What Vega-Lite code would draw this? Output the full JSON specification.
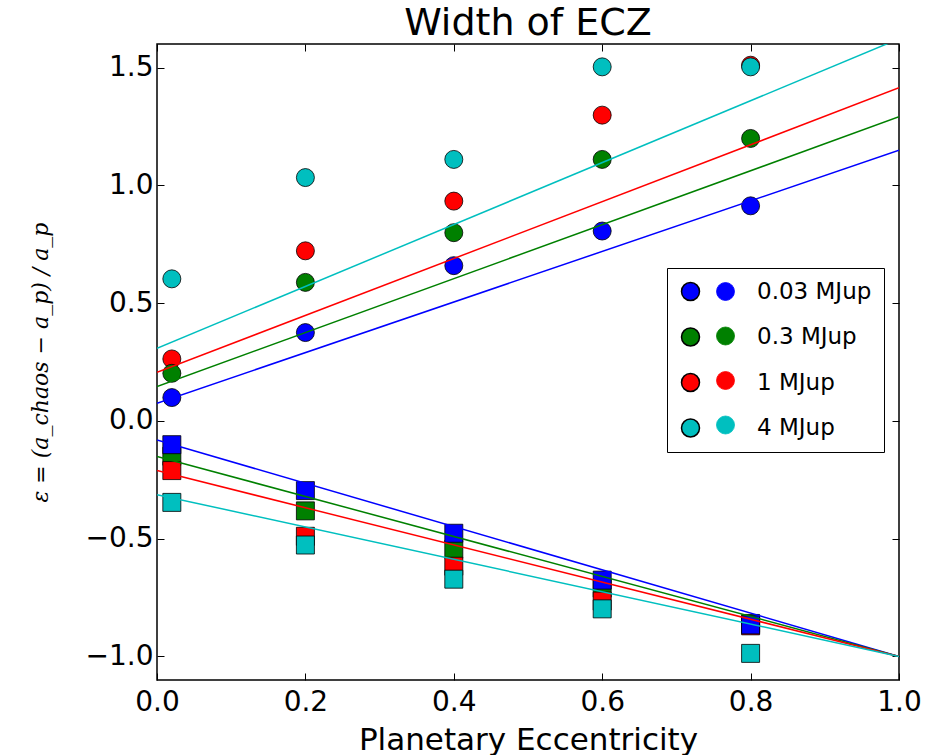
{
  "$schema": "https://vega.github.io/schema/vega-lite/v6.json",
  "width": 742,
  "height": 636,
  "autosize": {"type": "none"},
  "padding": {"left": 157, "top": 44, "right": 30, "bottom": 75},
  "background": "white",
  "title": {"text": "Width of ECZ", "fontSize": 38, "font": "DejaVu Sans", "fontWeight": "normal", "baseline": "alphabetic", "offset": 9, "dy": 38, "color": "black"},
  "config": {
    "view": {"stroke": "black", "strokeWidth": 1.5},
    "axis": {"domain": false, "grid": false, "tickSize": -7, "tickColor": "black", "tickWidth": 1, "labelFont": "DejaVu Sans", "labelFontSize": 28, "labelColor": "black", "titleFont": "DejaVu Sans", "titleColor": "black", "titleFontWeight": "normal", "labelFlush": false, "labelOverlap": false}
  },
  "datasets": {
    "circles": [
      {"mass": "1 MJup", "e": 0.02, "eps": 0.263},
      {"mass": "1 MJup", "e": 0.2, "eps": 0.722},
      {"mass": "1 MJup", "e": 0.4, "eps": 0.933},
      {"mass": "1 MJup", "e": 0.6, "eps": 1.298},
      {"mass": "1 MJup", "e": 0.8, "eps": 1.51},
      {"mass": "0.3 MJup", "e": 0.02, "eps": 0.202},
      {"mass": "0.3 MJup", "e": 0.2, "eps": 0.588},
      {"mass": "0.3 MJup", "e": 0.4, "eps": 0.799},
      {"mass": "0.3 MJup", "e": 0.6, "eps": 1.11},
      {"mass": "0.3 MJup", "e": 0.8, "eps": 1.199},
      {"mass": "0.03 MJup", "e": 0.02, "eps": 0.099},
      {"mass": "0.03 MJup", "e": 0.2, "eps": 0.375},
      {"mass": "0.03 MJup", "e": 0.4, "eps": 0.659},
      {"mass": "0.03 MJup", "e": 0.6, "eps": 0.806},
      {"mass": "0.03 MJup", "e": 0.8, "eps": 0.913},
      {"mass": "4 MJup", "e": 0.02, "eps": 0.603},
      {"mass": "4 MJup", "e": 0.2, "eps": 1.033},
      {"mass": "4 MJup", "e": 0.4, "eps": 1.11},
      {"mass": "4 MJup", "e": 0.6, "eps": 1.503},
      {"mass": "4 MJup", "e": 0.8, "eps": 1.503}
    ],
    "squares": [
      {"mass": "0.3 MJup", "e": 0.02, "eps": -0.15},
      {"mass": "0.3 MJup", "e": 0.2, "eps": -0.382},
      {"mass": "0.3 MJup", "e": 0.4, "eps": -0.545},
      {"mass": "0.3 MJup", "e": 0.6, "eps": -0.71},
      {"mass": "0.3 MJup", "e": 0.8, "eps": -0.86},
      {"mass": "1 MJup", "e": 0.02, "eps": -0.211},
      {"mass": "1 MJup", "e": 0.2, "eps": -0.49},
      {"mass": "1 MJup", "e": 0.4, "eps": -0.617},
      {"mass": "1 MJup", "e": 0.6, "eps": -0.765},
      {"mass": "1 MJup", "e": 0.8, "eps": -0.87},
      {"mass": "4 MJup", "e": 0.02, "eps": -0.346},
      {"mass": "4 MJup", "e": 0.2, "eps": -0.527},
      {"mass": "4 MJup", "e": 0.4, "eps": -0.672},
      {"mass": "4 MJup", "e": 0.6, "eps": -0.798},
      {"mass": "4 MJup", "e": 0.8, "eps": -0.987},
      {"mass": "0.03 MJup", "e": 0.02, "eps": -0.101},
      {"mass": "0.03 MJup", "e": 0.2, "eps": -0.296},
      {"mass": "0.03 MJup", "e": 0.4, "eps": -0.477},
      {"mass": "0.03 MJup", "e": 0.6, "eps": -0.676},
      {"mass": "0.03 MJup", "e": 0.8, "eps": -0.866}
    ],
    "fits": [
      {"series": "fit 0.03", "branch": "upper", "e": 0, "eps": 0.075},
      {"series": "fit 0.03", "branch": "upper", "e": 1, "eps": 1.149},
      {"series": "fit 0.3", "branch": "upper", "e": 0, "eps": 0.146},
      {"series": "fit 0.3", "branch": "upper", "e": 1, "eps": 1.291},
      {"series": "fit 1", "branch": "upper", "e": 0, "eps": 0.206},
      {"series": "fit 1", "branch": "upper", "e": 1, "eps": 1.414},
      {"series": "fit 4", "branch": "upper", "e": 0, "eps": 0.308},
      {"series": "fit 4", "branch": "upper", "e": 1, "eps": 1.622},
      {"series": "fit 0.03", "branch": "lower", "e": 0, "eps": -0.081},
      {"series": "fit 0.03", "branch": "lower", "e": 1, "eps": -1.0},
      {"series": "fit 0.3", "branch": "lower", "e": 0, "eps": -0.151},
      {"series": "fit 0.3", "branch": "lower", "e": 1, "eps": -1.0},
      {"series": "fit 1", "branch": "lower", "e": 0, "eps": -0.211},
      {"series": "fit 1", "branch": "lower", "e": 1, "eps": -1.0},
      {"series": "fit 4", "branch": "lower", "e": 0, "eps": -0.313},
      {"series": "fit 4", "branch": "lower", "e": 1, "eps": -1.0}
    ]
  },
  "layer": [
    {
      "data": {"name": "circles"},
      "mark": {"type": "circle", "size": 324, "stroke": "black", "strokeWidth": 0.8, "opacity": 1},
      "encoding": {
        "x": {"field": "e", "type": "quantitative", "scale": {"domain": [0, 1], "nice": false, "zero": false},
          "axis": {"orient": "bottom", "values": [0, 0.2, 0.4, 0.6, 0.8, 1.0], "format": ".1f", "labelPadding": 15, "title": "Planetary Eccentricity", "titleFontSize": 31, "titleBaseline": "alphabetic", "titleY": 69}},
        "y": {"field": "eps", "type": "quantitative", "scale": {"domain": [-1.1, 1.6], "nice": false, "zero": false},
          "axis": {"orient": "left", "values": [-1.0, -0.5, 0, 0.5, 1.0, 1.5], "format": ".1f", "labelPadding": 11, "title": "ε = (a_chaos − a_p) / a_p", "titleFont": "DejaVu Serif", "titleFontStyle": "italic", "titleFontSize": 22, "titleBaseline": "middle", "titleX": -117}},
        "fill": {"field": "mass", "type": "nominal",
          "scale": {"domain": ["0.03 MJup", "0.3 MJup", "1 MJup", "4 MJup"], "range": ["#0000ff", "#008000", "#ff0000", "#00bfbf"]},
          "legend": {"orient": "none", "legendX": 510, "legendY": 224, "padding": 12, "title": null, "symbolType": "circle", "symbolSize": 324, "labelFontSize": 23, "labelFont": "DejaVu Sans", "labelColor": "black", "labelOffset": 55, "rowPadding": 20.5, "strokeColor": "black",
            "encode": {"legend": {"update": {"stroke": {"value": "black"}, "strokeWidth": {"value": 1.5}}}, "symbols": {"update": {"fill": {"scale": "fill", "field": "value"}, "stroke": {"value": "black"}, "strokeWidth": {"value": 0.8}, "opacity": {"value": 1}}}}}}
      }
    },
    {
      "data": {"name": "squares"},
      "mark": {"type": "square", "size": 324, "stroke": "black", "strokeWidth": 0.8, "opacity": 1},
      "encoding": {
        "x": {"field": "e", "type": "quantitative", "axis": {"orient": "top", "values": [0, 0.2, 0.4, 0.6, 0.8, 1.0], "labels": false, "title": null}},
        "y": {"field": "eps", "type": "quantitative", "axis": {"orient": "right", "values": [-1.0, -0.5, 0, 0.5, 1.0, 1.5], "labels": false, "title": null}},
        "fill": {"field": "mass", "type": "nominal"}
      }
    },
    {
      "data": {"name": "fits"},
      "mark": {"type": "line", "strokeWidth": 1.5, "clip": true},
      "encoding": {
        "x": {"field": "e", "type": "quantitative", "axis": null},
        "y": {"field": "eps", "type": "quantitative", "axis": null},
        "detail": {"field": "branch"},
        "stroke": {"field": "series", "type": "nominal",
          "scale": {"domain": ["fit 0.03", "fit 0.3", "fit 1", "fit 4"], "range": ["#0000ff", "#008000", "#ff0000", "#00bfbf"]},
          "legend": {"orient": "none", "legendX": 557, "legendY": 236, "padding": 0, "title": null, "symbolType": "circle", "symbolSize": 324, "symbolStrokeColor": "black", "symbolStrokeWidth": 0.8, "labelFontSize": 23, "labelFont": "DejaVu Sans", "labelOffset": 55, "rowPadding": 20.5,
            "encode": {"labels": {"update": {"opacity": {"value": 0}}}, "symbols": {"enter": {"stroke": {"value": "black"}}, "update": {"fill": {"scale": "stroke", "field": "value"}, "stroke": {"value": "black"}, "strokeWidth": {"value": 0.8}, "opacity": {"value": 1}}}}}}
      }
    }
  ],
  "resolve": {"axis": {"x": "independent", "y": "independent"}}
}
